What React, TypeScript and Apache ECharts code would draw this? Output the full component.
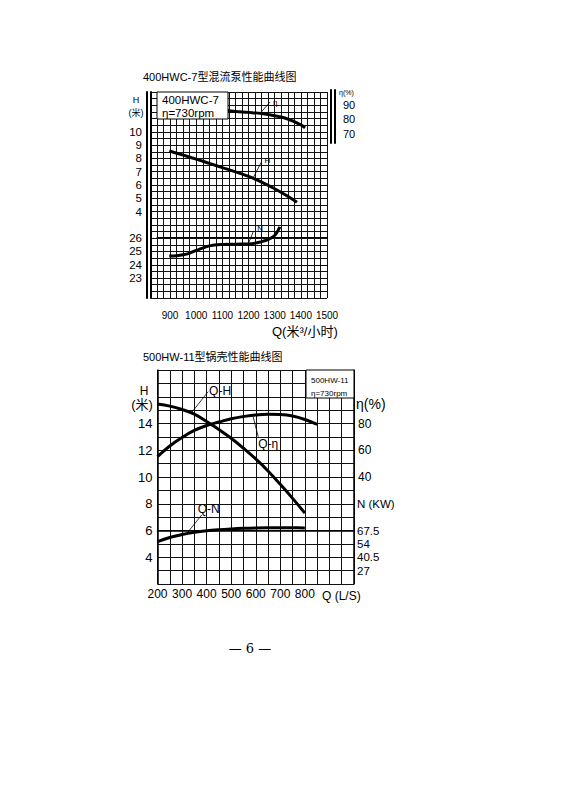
import React, { useEffect, useRef } from 'react';
import * as echarts from 'echarts';

// ---------- Chart A: 400HWC-7 混流泵 ----------
const titleA = '400HWC-7型混流泵性能曲线图';
const flowTicksA = [900, 1000, 1100, 1200, 1300, 1400, 1500];
const headTicksA = [4, 5, 6, 7, 8, 9, 10];
const powerTicksA = [23, 24, 25, 26];
const etaTicksA = [70, 80, 90];

const flowEtaA = [1112, 1150, 1200, 1250, 1300, 1350, 1400, 1416];
const etaA = [86.1, 85.4, 84.8, 84.0, 82.5, 80.3, 76.3, 74.3];

const flowHeadA = [897, 950, 1000, 1050, 1100, 1150, 1200, 1250, 1300, 1350, 1385];
const headA = [8.56, 8.25, 7.95, 7.63, 7.31, 6.99, 6.65, 6.22, 5.72, 5.15, 4.7];

const flowPowerA = [897, 925, 950, 975, 1000, 1050, 1100, 1150, 1200, 1250, 1280, 1300, 1320];
const powerA = [24.66, 24.68, 24.75, 24.88, 25.08, 25.42, 25.53, 25.55, 25.57, 25.74, 25.95, 26.2, 26.85];

// ---------- Chart B: 500HW-11 锅壳 ----------
const titleB = '500HW-11型锅壳性能曲线图';
const flowTicksB = [200, 300, 400, 500, 600, 700, 800];
const headTicksB = [4, 6, 8, 10, 12, 14];
const etaTicksB = [40, 60, 80];
const powerTicksB = [27, 40.5, 54, 67.5];
const powerUnitAt = 94.5;

const flowB = [200, 250, 300, 350, 400, 450, 500, 550, 600, 650, 700, 750, 800];
const headB = [15.45, 15.3, 15.05, 14.7, 14.15, 13.55, 12.9, 12.15, 11.35, 10.45, 9.45, 8.4, 7.3];
const powerB = [56.2, 60.5, 63.4, 65.6, 67.2, 68.3, 69.1, 69.7, 70.1, 70.3, 70.4, 70.3, 70.1];
const flowEtaB = [200, 250, 300, 350, 400, 450, 500, 550, 600, 650, 700, 750, 800, 850];
const etaB = [55.2, 63.2, 69.5, 74.8, 78.5, 81.1, 83.6, 85.2, 86.4, 86.9, 86.7, 85.6, 83.0, 79.3];

// ---------- layout ----------
const GA = { left: 157, top: 92, width: 170, height: 206 };
const GS = { left: 331, top: 90, width: 4, height: 53 };
const GB = { left: 157.5, top: 370, width: 196.5, height: 214 };
const etaScaleMin = 64;
const etaScaleMax = 100;
const etaPerPx = (etaScaleMax - etaScaleMin) / GS.height;
const etaAxisMaxA = etaScaleMax - (GA.top - GS.top) * etaPerPx;
const etaAxisMinA = etaScaleMax - (GA.top + GA.height - GS.top) * etaPerPx;

const zip = (xs: number[], ys: number[]) => xs.map((x, i) => [x, ys[i]]);
const near = (list: number[], v: number) => list.find((t) => Math.abs(t - v) < 1e-6);

const NUM = '"Liberation Sans", Arial, sans-serif';
const CJK = '"Liberation Sans", "Noto Sans CJK SC", sans-serif';
const black = '#000000';
const gridLine = { show: true, lineStyle: { color: '#111', width: 1 } };

const labelsAt = (list: number[], size: number, margin: number, extra?: (v: number) => string | undefined) => ({
  show: true,
  margin,
  fontSize: size,
  color: black,
  customValues: list,
  formatter: (v: number) => {
    const e = extra ? extra(v) : undefined;
    if (e) return e;
    const t = near(list, v);
    return t !== undefined ? String(t) : '';
  },
});

const leaderLine = (from: number[], to: number[]) => ({
  silent: true,
  symbol: ['none', 'none'],
  animation: false,
  lineStyle: { color: black, width: 0.8, type: 'solid' },
  label: { show: false },
  emphasis: { disabled: true },
  data: [[{ coord: from }, { coord: to }]],
});

const leaderText = (text: string, at: number[], size: number, pos: any) => ({
  silent: true,
  animation: false,
  symbol: 'circle',
  symbolSize: 0,
  itemStyle: { color: black },
  label: {
    show: true, formatter: text, fontSize: size, color: black, fontFamily: NUM,
    position: pos, align: 'left', verticalAlign: 'middle', textBorderWidth: 0,
    textBorderColor: 'transparent',
  },
  emphasis: { disabled: true },
  data: [{ coord: at }],
});

const curve = (name: string, xi: number, yi: number, data: number[][], ml: any, mp: any) => ({
  name,
  type: 'line',
  xAxisIndex: xi,
  yAxisIndex: yi,
  data,
  smooth: 0.4,
  showSymbol: false,
  symbol: 'none',
  color: black,
  itemStyle: { color: black },
  lineStyle: { color: black, width: 3 },
  z: 5,
  markLine: ml,
  markPoint: mp,
});

const text = (t: string, x: number, y: number, font: string, align = 'left') => ({
  type: 'text',
  x,
  y,
  z: 20,
  style: { text: t, fill: black, font, align, verticalAlign: 'middle' },
});

const option: any = {
  animation: false,
  backgroundColor: '#fff',
  color: [black],
  textStyle: { fontFamily: NUM, color: black },
  grid: [
    { ...GA, containLabel: false },
    { ...GS, containLabel: false },
    { ...GB, containLabel: false },
  ],
  xAxis: [
    {
      type: 'value', gridIndex: 0, position: 'bottom', min: 850, max: 1500, interval: 25,
      axisLine: { show: true, lineStyle: { color: black, width: 1 } },
      axisTick: { show: false }, axisLabel: { show: false }, splitLine: gridLine,
    },
    {
      type: 'value', gridIndex: 0, position: 'bottom', min: 850, max: 1500, interval: 50, offset: 7,
      axisLine: { show: true, lineStyle: { color: black, width: 1 } },
      axisTick: { show: true, inside: true, length: 3, lineStyle: { color: black } },
      axisLabel: labelsAt(flowTicksA, 10, 5),
      splitLine: { show: false },
    },
    { type: 'value', gridIndex: 1, show: false, min: 0, max: 1 },
    {
      type: 'value', gridIndex: 2, position: 'bottom', min: 200, max: 1000, interval: 50,
      axisLine: { show: true, lineStyle: { color: black, width: 1.5 } },
      axisTick: { show: false },
      axisLabel: labelsAt(flowTicksB, 12, 4),
      splitLine: gridLine,
    },
  ],
  yAxis: [
    {
      type: 'value', gridIndex: 0, position: 'left', offset: 6, min: -2.5, max: 13, interval: 0.5,
      axisLine: { show: true, lineStyle: { color: black, width: 2 } },
      axisTick: { show: true, inside: true, length: 6, lineStyle: { color: '#111' } },
      axisLabel: labelsAt(headTicksA, 11.5, 9),
      splitLine: gridLine,
    },
    {
      type: 'value', gridIndex: 0, position: 'left', offset: 10, min: 21.5, max: 37, interval: 0.5,
      axisLine: { show: true, lineStyle: { color: black, width: 2 } },
      axisTick: { show: false },
      axisLabel: labelsAt(powerTicksA, 11.5, 5),
      splitLine: { show: false },
    },
    { type: 'value', gridIndex: 0, show: false, min: etaAxisMinA, max: etaAxisMaxA },
    {
      type: 'value', gridIndex: 1, position: 'left', min: etaScaleMin, max: etaScaleMax,
      axisLine: { show: true, lineStyle: { color: black, width: 2 } },
      axisTick: { show: false }, axisLabel: { show: false }, splitLine: { show: false },
    },
    {
      type: 'value', gridIndex: 1, position: 'right', min: etaScaleMin, max: etaScaleMax, interval: 2,
      axisLine: { show: true, lineStyle: { color: black, width: 2 } },
      axisTick: { show: false },
      axisLabel: labelsAt(etaTicksA, 11, 8),
      splitLine: { show: false },
    },
    {
      type: 'value', gridIndex: 2, position: 'left', min: 2, max: 18, interval: 1,
      axisLine: { show: true, lineStyle: { color: black, width: 1.5 } },
      axisTick: { show: false },
      axisLabel: labelsAt(headTicksB, 13, 5),
      splitLine: gridLine,
    },
    {
      type: 'value', gridIndex: 2, position: 'right', min: -40, max: 120, interval: 10,
      axisLine: { show: true, lineStyle: { color: black, width: 1.5 } },
      axisTick: { show: false },
      axisLabel: labelsAt(etaTicksB, 12, 4),
      splitLine: { show: false },
    },
    {
      type: 'value', gridIndex: 2, position: 'right', min: 13.5, max: 229.5, interval: 13.5,
      axisLine: { show: false }, axisTick: { show: false },
      axisLabel: labelsAt([...powerTicksB, powerUnitAt], 11.5, 3,
        (v) => (Math.abs(v - powerUnitAt) < 1e-6 ? 'N (KW)' : undefined)),
      splitLine: { show: false },
    },
  ],
  series: [
    curve('η', 0, 2, zip(flowEtaA, etaA),
      leaderLine([1244, 84.1], [1282, 91.8]), leaderText('η', [1282, 91.8], 8, [3, 0])),
    curve('H', 0, 0, zip(flowHeadA, headA),
      leaderLine([1218, 6.55], [1250, 7.76]), leaderText('H', [1250, 7.76], 8, [3, -1])),
    curve('N', 0, 1, zip(flowPowerA, powerA),
      leaderLine([1199, 25.57], [1218, 26.49]), leaderText('N', [1218, 26.49], 8, [4, -3])),
    curve('Q-H', 3, 5, zip(flowB, headB),
      leaderLine([339, 14.82], [406, 16.38]), leaderText('Q-H', [406, 16.38], 12, [1, -1])),
    curve('Q-η', 3, 6, zip(flowEtaB, etaB),
      leaderLine([588, 86.0], [610, 70.1]), leaderText('Q-η', [610, 70.1], 12, [0, 7])),
    curve('Q-N', 3, 7, zip(flowB, powerB),
      leaderLine([319, 64.4], [380, 83.2]), leaderText('Q-N', [380, 83.2], 12, [-4, -6])),
  ],
  graphic: [
    text(titleA, 143, 77, '11px ' + CJK),
    text(titleB, 143, 357, '11px ' + CJK),
    text('H', 136, 100, '9px ' + CJK, 'center'),
    text('(米)', 136, 113, '9px ' + CJK, 'center'),
    text('η(%)', 339, 92, '7px ' + NUM),
    {
      type: 'rect', z: 15,
      shape: { x: GA.left, y: GA.top, width: 71, height: 27 },
      style: { fill: '#fff', stroke: black, lineWidth: 1 },
    },
    text('400HWC-7', 162, 100, '11.5px ' + NUM),
    text('η=730rpm', 162, 113, '11.5px ' + NUM),
    text('Q(米³/小时)', 272, 331, '13px ' + CJK),
    text('H', 144, 391, '12px ' + CJK, 'center'),
    text('(米)', 142, 404, '13px ' + CJK, 'center'),
    text('η(%)', 356, 404, '14px ' + CJK),
    {
      type: 'rect', z: 15,
      shape: { x: 306, y: GB.top, width: GB.left + GB.width - 306, height: 28 },
      style: { fill: '#fff', stroke: black, lineWidth: 1 },
    },
    text('500HW-11', 311, 380, '8px ' + NUM),
    text('η=730rpm', 311, 393, '8px ' + NUM),
    text('Q (L/S)', 322, 596, '12px ' + NUM),
    text('— 6 —', 250, 648, '13px "DejaVu Serif", serif', 'center'),
  ],
};

export default function App() {
  const ref = useRef<HTMLDivElement>(null);
  useEffect(() => {
    document.body.style.margin = '0';
    const chart = echarts.init(ref.current as HTMLDivElement, null, { renderer: 'svg' });
    chart.setOption(option);
    return () => chart.dispose();
  }, []);
  return <div ref={ref} style={{ width: 565, height: 800, background: '#fff' }} />;
}
